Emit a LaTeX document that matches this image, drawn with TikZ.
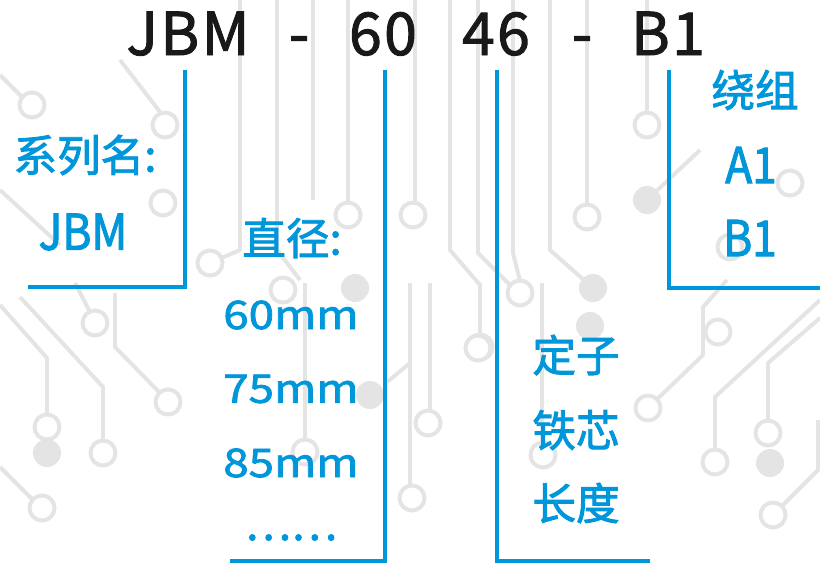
\documentclass[tikz,border=0pt]{standalone}
\usepackage{fontspec}
\setmainfont{Noto Sans CJK SC}
\definecolor{jbmblue}{RGB}{0,150,218}
\definecolor{tracegray}{RGB}{228,228,228}

\tikzset{
  trace/.style={draw=tracegray, line width=2.8pt, line join=round},
  pad/.style={draw=tracegray, line width=2.8pt, fill=white},
  padfill/.style={fill=tracegray},
  bar/.style={draw=jbmblue, line width=2.9pt},
  codepart/.style={inner sep=0pt, anchor=base, text=black!90,
    font=\fontsize{42}{42}\selectfont\addfontfeatures{LetterSpace=4,FakeBold=1.6}},
  labcn/.style={inner sep=0pt, text=jbmblue,
    font=\fontsize{31}{31}\selectfont\addfontfeatures{FakeBold=2}},
  lablat/.style={inner sep=0pt, text=jbmblue,
    font=\fontsize{35}{35}\selectfont\addfontfeatures{FakeStretch=0.9,FakeBold=2}},
  labmm/.style={inner sep=0pt, text=jbmblue,
    font=\fontsize{28}{28}\selectfont\addfontfeatures{FakeStretch=1.16,FakeBold=2}},
}

\begin{document}
\begin{tikzpicture}[x=0.025cm, y=-0.025cm]

\useasboundingbox[fill=white] (0,0) rectangle (820,566);

% Circuit traces in the background
\draw[trace] (0,305) -- (47,358) -- (47,414);
\draw[trace] (20,297) -- (103,387) -- (103,440);
\draw[trace] (115,293) -- (115,347) -- (160,393);
\draw[trace] (75,283) -- (90,312);
\draw[trace] (0,467) -- (33,500);
\draw[trace] (0,75) -- (22,97);
\draw[trace] (120,60) -- (160,112);
\draw[trace] (0,190) -- (60,245);
\draw[trace] (648,408) -- (703,355) -- (703,307) -- (727,280);
\draw[trace] (715,449) -- (715,397) -- (820,300);
\draw[trace] (768,420) -- (768,363) -- (820,318);
\draw[trace] (782,506) -- (818,470) -- (818,420);
\draw[trace] (277,0) -- (277,250) -- (300,280);
\draw[trace] (313,0) -- (313,200);
\draw[trace] (348,0) -- (348,203);
\draw[trace] (415,0) -- (415,203);
\draw[trace] (450,0) -- (450,250) -- (480,285);
\draw[trace] (478,0) -- (478,253) -- (510,285);
\draw[trace] (513,0) -- (513,253) -- (520,281);
\draw[trace] (550,0) -- (550,250) -- (593,288);
\draw[trace] (587,0) -- (587,205);
\draw[trace] (647,0) -- (647,113);
\draw[trace] (647,200) -- (700,150);
\draw[trace] (240,0) -- (240,250) -- (210,263);
\draw[trace] (305,283) -- (305,440);
\draw[trace] (410,283) -- (410,485);
\draw[trace] (410,363) -- (387,382);
\draw[trace] (480,283) -- (480,335);
\draw[trace] (542,283) -- (542,443);
\draw[trace] (430,283) -- (430,410);
\foreach \px/\py in {47/427, 103/453, 168/402, 95/323, 42/508, 32/105, 165/125,
    163/203, 648/408, 718/332, 715/462, 768/433, 773/515, 348/215, 413/215,
    587/217, 647/125, 520/293, 790/183, 730/247, 210/263, 283/290, 305/452,
    412/498, 480/347, 428/423, 478/348, 543/455}{
  \draw[pad] (\px,\py) circle (12.5);
}
\foreach \px/\py in {47/453, 770/463, 355/288, 370/395, 593/288, 590/326, 647/200}{
  \fill[padfill] (\px,\py) circle (14);
}

% Model code
\node[codepart] (cJBM) at (188,55) {JBM};
\node[codepart] (cD1) at (299,55) {-};
\node[codepart] (c60) at (383,55) {60};
\node[codepart] (c46) at (496,55) {46};
\node[codepart] (cD2) at (582,55) {-};
\node[codepart] (cB1) at (668,55) {B1};

% Bracket ends
\coordinate (eJBM) at (28,287);
\coordinate (e60) at (230,561);
\coordinate (e46) at (650,561);
\coordinate (eB1) at (820,288);

\draw[bar] ([shift={(-3,15)}]cJBM.base) |- (eJBM);
\draw[bar] ([shift={(2,15)}]c60.base) |- (e60);
\draw[bar] ([shift={(1,15)}]c46.base) |- (e46);
\draw[bar] ([shift={(1,15)}]cB1.base) |- (eB1);

% Series
\node[labcn] (nSer) at (85,155) {系列名:};
\node[lablat] (nSerV) at (83,232) {JBM};

% Diameter
\node[labcn] (nDia) at (292,238) {直径:};
\node[labmm] (d60) at (291,315) {60mm};
\node[labmm] (d75) at (291,389) {75mm};
\node[labmm] (d85) at (291,463) {85mm};
\node[labcn, anchor=base] (dMore) at (291,540) {……};

% Stator core length
\node[labcn] (nSt1) at (576,355) {定子};
\node[labcn] (nSt2) at (576,430) {铁芯};
\node[labcn] (nSt3) at (576,503) {长度};

% Winding
\node[labcn] (nWd) at (755,90) {绕组};
\node[lablat] (wA1) at (751,165) {A1};
\node[lablat] (wB1) at (750,238) {B1};

\end{tikzpicture}
\end{document}
